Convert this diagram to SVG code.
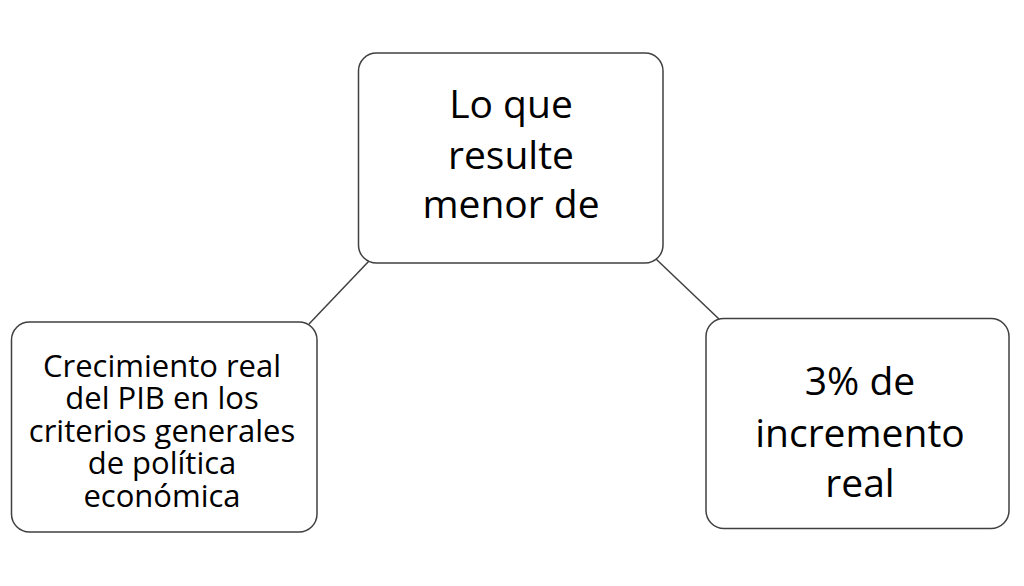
<svg xmlns="http://www.w3.org/2000/svg" width="1024" height="586" viewBox="0 0 1024 586">
<style>
.box{fill:#fff;stroke:#404040;stroke-width:1.5}
.lnk{stroke:#404040;stroke-width:1.5;fill:none}
.t{font-family:"Open Sans","Noto Sans","Liberation Sans",sans-serif;fill:#000;text-anchor:middle}
.big{font-size:39px}
.sm{font-size:31px}
</style>
<rect width="1024" height="586" fill="#fff"/>
<g id="connectors">
<line class="lnk" x1="369" y1="261" x2="309" y2="324"/>
<line class="lnk" x1="656" y1="259" x2="719" y2="319"/>
</g>
<g id="top">
<rect class="box" x="358.5" y="53" width="304.5" height="210" rx="18"/>
<text class="t big" x="511" y="117.5">Lo que</text>
<text class="t big" x="511" y="168.5">resulte</text>
<text class="t big" x="511" y="218">menor de</text>
</g>
<g id="left">
<rect class="box" x="11.5" y="322" width="305.5" height="210" rx="18"/>
<text class="t sm" x="162" y="376.5">Crecimiento real</text>
<text class="t sm" x="162" y="409">del PIB en los</text>
<text class="t sm" x="162" y="441.5">criterios generales</text>
<text class="t sm" x="162" y="474">de política</text>
<text class="t sm" x="162" y="506.5">económica</text>
</g>
<g id="right">
<rect class="box" x="706" y="318.5" width="303" height="210" rx="18"/>
<text class="t big" x="860" y="395">3% de</text>
<text class="t big" x="860" y="446.5">incremento</text>
<text class="t big" x="860" y="496.5">real</text>
</g>
</svg>
